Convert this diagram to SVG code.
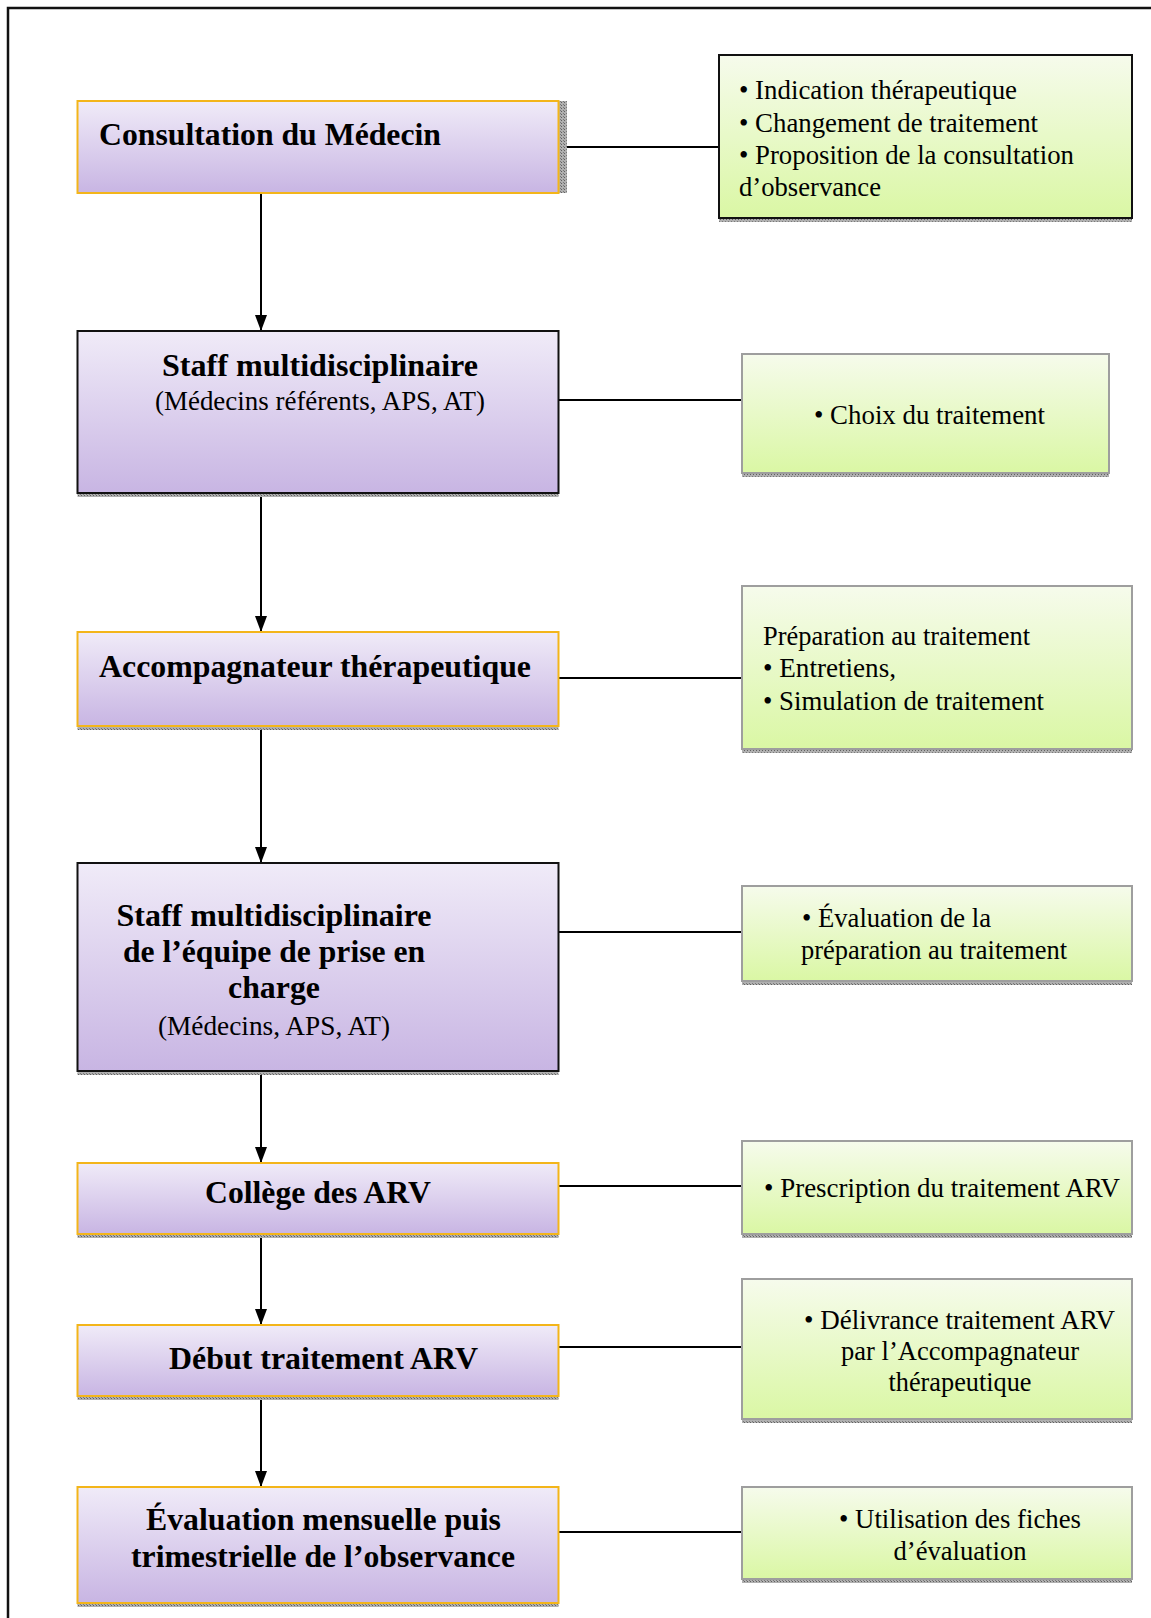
<svg xmlns="http://www.w3.org/2000/svg" width="1151" height="1618" viewBox="0 0 1151 1618">
<defs>
<linearGradient id="gp" x1="0" y1="0" x2="0" y2="1"><stop offset="0" stop-color="#F0EBF8"/><stop offset="1" stop-color="#C8B5E3"/></linearGradient>
<linearGradient id="gg" x1="0" y1="0" x2="0" y2="1"><stop offset="0" stop-color="#F6FBEC"/><stop offset="1" stop-color="#DAF7A4"/></linearGradient>
<pattern id="sh" width="3" height="3" patternUnits="userSpaceOnUse"><rect width="3" height="3" fill="#B0B0B0"/><rect width="1" height="1" fill="#606060"/><rect x="2" y="2" width="1" height="1" fill="#7A7A7A"/></pattern>
<marker id="ar" markerWidth="16" markerHeight="12" refX="16" refY="6" orient="auto" markerUnits="userSpaceOnUse" viewBox="0 0 16 12"><path d="M0,0 L16,6 L0,12 Z" fill="#000"/></marker>
<style>
.p{fill:url(#gp);stroke-width:2}
.o{stroke:#F3B51A}
.k{stroke:#111}
.g{fill:url(#gg);stroke:#9E9E9E;stroke-width:2}
.gk{fill:url(#gg);stroke:#111;stroke-width:2}
.s{fill:url(#sh)}
.t{font-family:"Liberation Serif","Times New Roman",serif;font-weight:bold;font-size:31px;fill:#000}
.r{font-family:"Liberation Serif","Times New Roman",serif;font-size:26.5px;fill:#000}
.c{stroke:#000;stroke-width:2;fill:none}
</style>
</defs>
<rect width="1151" height="1618" fill="#fff"/>
<path d="M8,1618 V8 H1151" fill="none" stroke="#111" stroke-width="2.5"/>

<g id="connectors">
<line class="c" x1="261" y1="193" x2="261" y2="331" marker-end="url(#ar)"/>
<line class="c" x1="261" y1="497" x2="261" y2="632" marker-end="url(#ar)"/>
<line class="c" x1="261" y1="730" x2="261" y2="863" marker-end="url(#ar)"/>
<line class="c" x1="261" y1="1075" x2="261" y2="1163" marker-end="url(#ar)"/>
<line class="c" x1="261" y1="1238" x2="261" y2="1325" marker-end="url(#ar)"/>
<line class="c" x1="261" y1="1400" x2="261" y2="1487" marker-end="url(#ar)"/>
<line class="c" x1="559" y1="147" x2="719" y2="147"/>
<line class="c" x1="559" y1="400" x2="742" y2="400"/>
<line class="c" x1="559" y1="678" x2="742" y2="678"/>
<line class="c" x1="559" y1="932" x2="742" y2="932"/>
<line class="c" x1="559" y1="1186" x2="742" y2="1186"/>
<line class="c" x1="559" y1="1347" x2="742" y2="1347"/>
<line class="c" x1="559" y1="1532" x2="742" y2="1532"/>
</g>

<g id="n1">
<rect class="s" x="559" y="101" width="8" height="92"/>
<rect class="p o" x="77.5" y="101" width="481" height="92"/>
<text class="t" x="99" y="145" textLength="342" lengthAdjust="spacingAndGlyphs">Consultation du Médecin</text>
</g>
<g id="n2">
<rect class="s" x="77.5" y="493" width="481" height="4"/>
<rect class="p k" x="77.5" y="331" width="481" height="162"/>
<text class="t" x="320" y="376" text-anchor="middle" textLength="316" lengthAdjust="spacingAndGlyphs">Staff multidisciplinaire</text>
<text class="r" x="320" y="410" text-anchor="middle" textLength="330" lengthAdjust="spacingAndGlyphs">(Médecins référents, APS, AT)</text>
</g>
<g id="n3">
<rect class="s" x="77.5" y="726" width="481" height="4"/>
<rect class="p o" x="77.5" y="632" width="481" height="94"/>
<text class="t" x="99" y="677" textLength="432" lengthAdjust="spacingAndGlyphs">Accompagnateur thérapeutique</text>
</g>
<g id="n4">
<rect class="s" x="77.5" y="1071" width="481" height="4"/>
<rect class="p k" x="77.5" y="863" width="481" height="208"/>
<text class="t" x="274" y="926" text-anchor="middle" textLength="315" lengthAdjust="spacingAndGlyphs">Staff multidisciplinaire</text>
<text class="t" x="274" y="962" text-anchor="middle" textLength="302" lengthAdjust="spacingAndGlyphs">de l’équipe de prise en</text>
<text class="t" x="274" y="998" text-anchor="middle" textLength="92" lengthAdjust="spacingAndGlyphs">charge</text>
<text class="r" x="274" y="1035" text-anchor="middle" textLength="232" lengthAdjust="spacingAndGlyphs">(Médecins, APS, AT)</text>
</g>
<g id="n5">
<rect class="s" x="77.5" y="1234" width="481" height="4"/>
<rect class="p o" x="77.5" y="1163" width="481" height="71"/>
<text class="t" x="205" y="1203" textLength="226" lengthAdjust="spacingAndGlyphs">Collège des ARV</text>
</g>
<g id="n6">
<rect class="s" x="77.5" y="1396" width="481" height="4"/>
<rect class="p o" x="77.5" y="1325" width="481" height="71"/>
<text class="t" x="169" y="1369" textLength="309" lengthAdjust="spacingAndGlyphs">Début traitement ARV</text>
</g>
<g id="n7">
<rect class="s" x="77.5" y="1603" width="481" height="4"/>
<rect class="p o" x="77.5" y="1487" width="481" height="116"/>
<text class="t" x="146" y="1530" textLength="355" lengthAdjust="spacingAndGlyphs">Évaluation mensuelle puis</text>
<text class="t" x="131" y="1567" textLength="384" lengthAdjust="spacingAndGlyphs">trimestrielle de l’observance</text>
</g>

<g id="r1">
<rect class="s" x="719" y="218" width="413" height="4"/>
<rect class="gk" x="719" y="55" width="413" height="163"/>
<text class="r" x="739" y="99" textLength="278" lengthAdjust="spacingAndGlyphs">• Indication thérapeutique</text>
<text class="r" x="739" y="132" textLength="299" lengthAdjust="spacingAndGlyphs">• Changement de traitement</text>
<text class="r" x="739" y="164" textLength="335" lengthAdjust="spacingAndGlyphs">• Proposition de la consultation</text>
<text class="r" x="739" y="196" textLength="142" lengthAdjust="spacingAndGlyphs">d’observance</text>
</g>
<g id="r2">
<rect class="s" x="742" y="473" width="367" height="4"/>
<rect class="g" x="742" y="354" width="367" height="119"/>
<text class="r" x="814" y="424" textLength="231" lengthAdjust="spacingAndGlyphs">• Choix du traitement</text>
</g>
<g id="r3">
<rect class="s" x="742" y="749" width="390" height="4"/>
<rect class="g" x="742" y="586" width="390" height="163"/>
<text class="r" x="763" y="645" textLength="267" lengthAdjust="spacingAndGlyphs">Préparation au traitement</text>
<text class="r" x="763" y="677" textLength="133" lengthAdjust="spacingAndGlyphs">• Entretiens,</text>
<text class="r" x="763" y="710" textLength="281" lengthAdjust="spacingAndGlyphs">• Simulation de traitement</text>
</g>
<g id="r4">
<rect class="s" x="742" y="981" width="390" height="4"/>
<rect class="g" x="742" y="886" width="390" height="95"/>
<text class="r" x="802" y="927" textLength="189" lengthAdjust="spacingAndGlyphs">• Évaluation de la</text>
<text class="r" x="801" y="959" textLength="266" lengthAdjust="spacingAndGlyphs">préparation au traitement</text>
</g>
<g id="r5">
<rect class="s" x="742" y="1234" width="390" height="4"/>
<rect class="g" x="742" y="1141" width="390" height="93"/>
<text class="r" x="764" y="1197" textLength="356" lengthAdjust="spacingAndGlyphs">• Prescription du traitement ARV</text>
</g>
<g id="r6">
<rect class="s" x="742" y="1419" width="390" height="4"/>
<rect class="g" x="742" y="1279" width="390" height="140"/>
<text class="r" x="804" y="1329" textLength="311" lengthAdjust="spacingAndGlyphs">• Délivrance traitement ARV</text>
<text class="r" x="960" y="1360" text-anchor="middle" textLength="238" lengthAdjust="spacingAndGlyphs">par l’Accompagnateur</text>
<text class="r" x="960" y="1391" text-anchor="middle" textLength="143" lengthAdjust="spacingAndGlyphs">thérapeutique</text>
</g>
<g id="r7">
<rect class="s" x="742" y="1579" width="390" height="4"/>
<rect class="g" x="742" y="1487" width="390" height="92"/>
<text class="r" x="960" y="1528" text-anchor="middle" textLength="242" lengthAdjust="spacingAndGlyphs">• Utilisation des fiches</text>
<text class="r" x="960" y="1560" text-anchor="middle" textLength="133" lengthAdjust="spacingAndGlyphs">d’évaluation</text>
</g>
</svg>
